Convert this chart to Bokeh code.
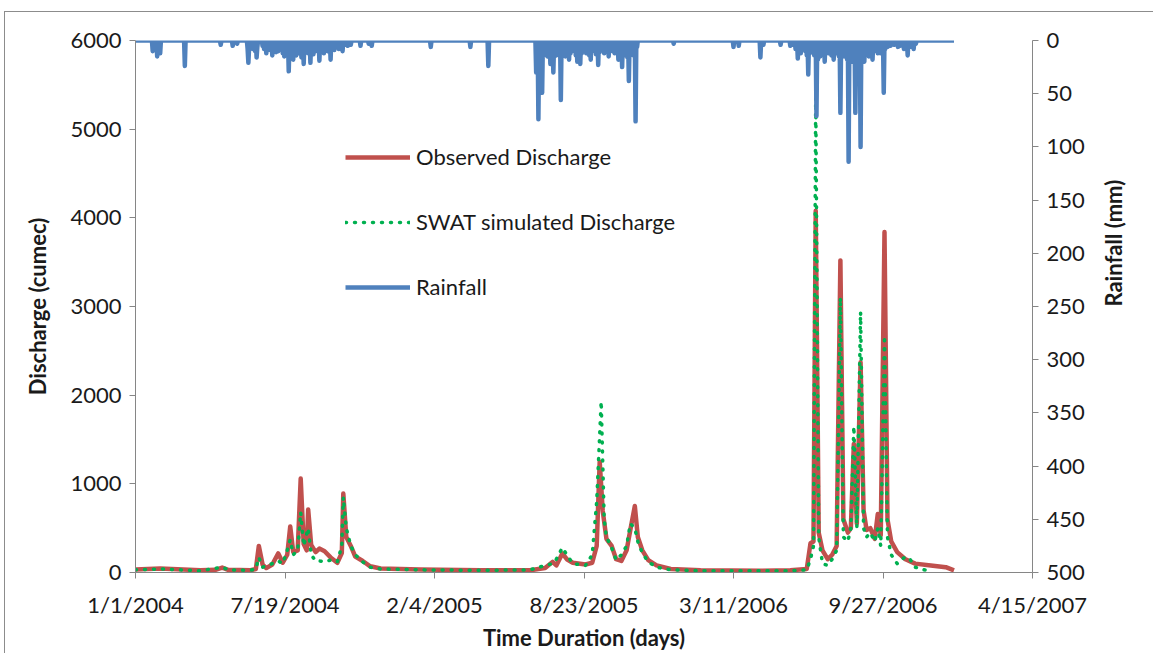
import math
import numpy as np
import pandas as pd
from bokeh.plotting import figure
from bokeh.models import Range1d, LinearAxis, FixedTicker, Legend, LegendItem
from bokeh.embed import file_html
from bokeh.resources import INLINE

# ---------------- data ----------------
START = pd.Timestamp("2004-01-01")
N_DAYS = 1096  # 1 Jan 2004 .. 31 Dec 2006

x_tick_labels = ["1/1/2004", "7/19/2004", "2/4/2005", "8/23/2005",
                 "3/11/2006", "9/27/2006", "4/15/2007"]
discharge_ticks = [0, 1000, 2000, 3000, 4000, 5000, 6000]
rain_ticks = [0, 50, 100, 150, 200, 250, 300, 350, 400, 450, 500]

# Observed discharge (cumec): day number since 1 Jan 2004, value
obs_day = [0, 33, 87, 107, 116, 124, 154, 161, 165, 170, 175, 183, 191, 197, 203,
           207, 211, 217, 221, 225, 229, 231, 235, 241, 246, 253, 261, 270, 276,
           278, 282, 288, 294, 304, 314, 328, 381, 462, 528, 548, 558, 563, 571,
           577, 585, 602, 611, 617, 621, 625, 630, 637, 643, 650, 657, 662, 668,
           672, 678, 686, 697, 716, 756, 836, 876, 898, 903, 907, 910, 914, 919,
           926, 932, 938, 943, 947, 953, 957, 961, 965, 970, 974, 978, 983, 989,
           993, 997, 1002, 1006, 1011, 1019, 1030, 1043, 1064, 1084, 1095]
obs_q = [35, 45, 25, 30, 55, 30, 25, 40, 300, 90, 50, 90, 215, 110, 200,
         520, 230, 250, 1060, 320, 250, 710, 310, 230, 270, 240, 170, 110, 220,
         890, 400, 300, 180, 130, 70, 45, 35, 25, 25, 50, 120, 80, 215,
         150, 110, 90, 110, 300, 1250, 700, 380, 300, 150, 130, 250, 480, 750,
         400, 250, 140, 80, 40, 25, 20, 25, 40, 330, 350, 4080, 450, 250,
         150, 200, 300, 3520, 600, 450, 500, 1450, 550, 2370, 700, 480, 500, 380,
         660, 420, 3840, 600, 350, 230, 150, 100, 80, 60, 25]

# SWAT simulated discharge (cumec)
sim_day = [0, 33, 87, 116, 124, 154, 161, 165, 170, 183, 191, 197, 203, 207, 211,
           217, 221, 225, 231, 235, 241, 246, 253, 261, 270, 276, 278, 282, 288,
           294, 304, 314, 328, 381, 462, 528, 548, 558, 563, 571, 577, 585, 602,
           611, 617, 623, 627, 630, 637, 643, 650, 657, 662, 668, 672, 678, 686,
           697, 716, 756, 836, 876, 898, 903, 907, 910, 914, 919, 926, 932, 938,
           943, 947, 953, 957, 961, 965, 970, 974, 978, 983, 989, 993, 997, 1002,
           1006, 1011, 1019, 1030, 1036, 1043, 1055, 1064]
sim_q = [30, 40, 20, 60, 30, 25, 40, 170, 60, 100, 130, 100, 250, 370, 200,
         250, 680, 300, 500, 200, 130, 130, 120, 140, 120, 300, 850, 500, 300,
         200, 120, 60, 40, 30, 25, 30, 80, 100, 150, 280, 200, 100, 80,
         200, 800, 1930, 600, 400, 280, 140, 200, 300, 550, 500, 350, 220, 120,
         60, 30, 20, 20, 20, 30, 150, 300, 5400, 400, 100, 80, 150, 250,
         3100, 400, 350, 500, 1650, 500, 2940, 500, 400, 450, 350, 500, 300, 2670,
         400, 200, 100, 180, 150, 60, 30, 25]

# Rainfall (mm): rainy days (day number since 1 Jan 2004) and depth; other days are 0
rain_day = [23, 29, 33, 66, 114, 130, 136,
            150, 151, 152, 157, 160, 162, 163, 170, 172, 175, 177, 180, 183, 185, 188,
            191, 194, 197, 199, 202, 205, 207, 209, 211, 213, 215, 218, 220, 222, 225,
            227, 229, 231, 234, 236, 238, 241, 243, 246, 248, 250, 252, 254, 257, 259,
            261, 263, 266, 269, 272, 275, 277, 280, 284, 288, 301, 312, 316,
            395, 448, 472,
            536, 537, 539, 541, 544, 546, 548, 551, 553, 555, 557, 559, 561, 563, 565,
            567, 569, 571, 573, 575, 577, 580, 582, 584, 587, 589, 591, 593, 595, 597,
            600, 603, 605, 607, 609, 611, 614, 616, 619, 621, 624, 627, 629, 631, 633,
            635, 638, 641, 643, 646, 648, 651, 653, 655, 658, 660, 662, 664, 666, 669,
            671, 720,
            800, 807, 836, 840, 863, 876,
            880, 883, 886, 888, 890, 893, 896, 898, 900, 902, 904, 906, 908, 911, 913,
            916, 918, 920, 922, 924, 927, 929, 931, 934, 936, 938, 941, 943, 945, 948,
            950, 952, 954, 956, 959, 961, 963, 965, 967, 970, 972, 975, 977, 979, 981,
            983, 986, 988, 991, 993, 995, 997, 999, 1001, 1003, 1006, 1010, 1015, 1020,
            1023, 1028, 1033, 1036, 1041, 1044]
rain_mm = [10, 15, 12, 24, 4, 5, 3,
           8, 21, 6, 8, 10, 16, 6, 5, 8, 12, 6, 9, 14, 7, 11,
           10, 8, 12, 15, 9, 29, 12, 8, 18, 10, 14, 12, 7, 16, 22,
           10, 8, 12, 21, 9, 13, 10, 8, 19, 11, 7, 12, 8, 10, 6,
           18, 7, 9, 6, 8, 5, 10, 4, 5, 4, 5, 3, 5,
           6, 6, 24,
           30, 12, 74, 20, 49, 14, 10, 15, 8, 22, 12, 30, 10, 14, 12,
           9, 56, 14, 10, 15, 8, 18, 12, 9, 10, 14, 20, 10, 22, 12,
           9, 12, 8, 14, 18, 9, 10, 13, 23, 11, 8, 12, 9, 10, 15,
           8, 10, 12, 9, 18, 11, 25, 14, 9, 16, 38, 12, 10, 14, 76,
           6, 3,
           6, 5, 16, 4, 4, 5,
           4, 8, 17, 9, 12, 8, 10, 14, 32, 12, 9, 10, 14, 71, 18,
           15, 10, 12, 20, 9, 12, 10, 14, 18, 10, 12, 15, 68, 12, 15,
           10, 18, 114, 14, 20, 12, 68, 16, 11, 100, 14, 20, 11, 9, 15,
           10, 18, 9, 10, 12, 8, 12, 10, 49, 8, 6, 5, 4, 6,
           5, 8, 14, 6, 8, 3]

# ---------------- build series ----------------
rain_daily = np.zeros(N_DAYS)
rain_daily[np.array(rain_day)] = np.array(rain_mm, dtype=float)
all_days = np.arange(N_DAYS)
tick_days = [(pd.to_datetime(t, format="%m/%d/%Y") - START).days for t in x_tick_labels]

FONT = "Lato"
AX_COLOR = "#868686"
TXT = "#1a1a1a"

p = figure(width=1148, height=641, output_backend="svg", toolbar_location=None,
           x_range=Range1d(0, tick_days[-1]), y_range=Range1d(0, 6000),
           min_border_left=130, min_border_right=121, min_border_top=28,
           min_border_bottom=81)
p.margin = (12, 0, 0, 5)
p.styles = {"outline": "1px solid #8c8c8c"}
p.outline_line_color = None
p.xgrid.visible = False
p.ygrid.visible = False
p.background_fill_color = "white"
p.border_fill_color = "white"

p.extra_y_ranges = {"rain": Range1d(start=500, end=0)}

r_obs = p.line(obs_day, obs_q, color="#C0504D", line_width=4.5, line_join="round")
r_sim = p.line(sim_day, sim_q, color="#00B050", line_width=3.5, line_dash="1 8",
               line_cap="round")
r_rain = p.line(all_days, rain_daily, y_range_name="rain", color="#4F81BD",
                line_width=4.5, line_join="round")

# axes
xa = p.xaxis[0]
xa.ticker = FixedTicker(ticks=tick_days)
xa.major_label_overrides = {d: lab for d, lab in zip(tick_days, x_tick_labels)}
xa.axis_label = "Time Duration (days)"
xa.major_label_standoff = 12
xa.axis_label_standoff = 3

ya = p.yaxis[0]
ya.ticker = FixedTicker(ticks=discharge_ticks)
ya.axis_label = "Discharge (cumec)"
ya.major_label_standoff = 8
ya.axis_label_standoff = 16

ra = LinearAxis(y_range_name="rain", ticker=FixedTicker(ticks=rain_ticks),
                axis_label="Rainfall (mm)")
ra.major_label_standoff = 8
ra.axis_label_standoff = 26
if "axis_label_orientation" in ra.properties():
    ra.axis_label_orientation = math.pi / 2
p.add_layout(ra, "right")

for ax in (xa, ya, ra):
    ax.axis_line_color = AX_COLOR
    ax.major_tick_line_color = AX_COLOR
    ax.major_tick_in = 0
    ax.major_tick_out = 6
    ax.minor_tick_line_color = None
    ax.major_label_text_font = FONT
    ax.major_label_text_font_size = "22px"
    ax.major_label_text_color = TXT
    ax.axis_label_text_font = FONT
    ax.axis_label_text_font_size = "22px"
    ax.axis_label_text_font_style = "bold"
    ax.axis_label_text_color = TXT

legend = Legend(items=[LegendItem(label="Observed Discharge", renderers=[r_obs]),
                       LegendItem(label="SWAT simulated Discharge", renderers=[r_sim]),
                       LegendItem(label="Rainfall", renderers=[r_rain])],
                location=(210, 272), border_line_color=None,
                background_fill_alpha=0, label_text_font=FONT,
                label_text_font_size="22px", label_text_color=TXT,
                glyph_width=65, glyph_height=20, label_height=20, spacing=38,
                padding=0, margin=0, label_standoff=6)
p.add_layout(legend)

open("out.html", "w").write(file_html(p, INLINE))
